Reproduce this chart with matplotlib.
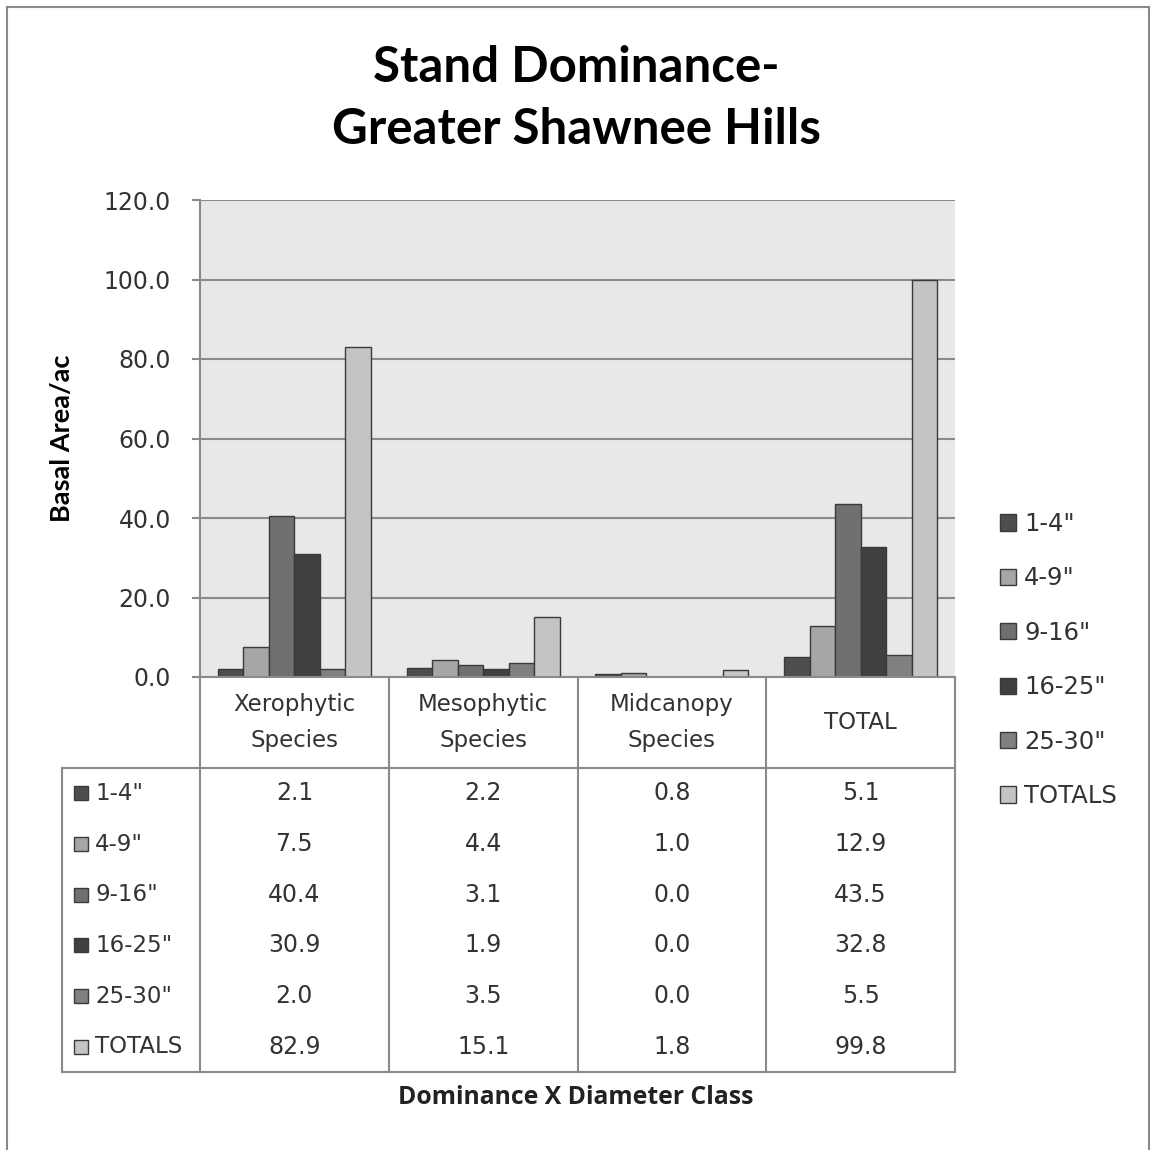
import numpy as np
import matplotlib
matplotlib.use("Agg")
import matplotlib.pyplot as plt
import matplotlib.patches as mpatches
import matplotlib.transforms as mtrans
from matplotlib.lines import Line2D

# ---- Data -------------------------------------------------------------------
CATEGORIES = ["Xerophytic\nSpecies", "Mesophytic\nSpecies", "Midcanopy\nSpecies", "TOTAL"]
SERIES     = ['1-4"', '4-9"', '9-16"', '16-25"', '25-30"', "TOTALS"]
VAL_1_4    = [2.1, 2.2, 0.8, 5.1]
VAL_4_9    = [7.5, 4.4, 1.0, 12.9]
VAL_9_16   = [40.4, 3.1, 0.0, 43.5]
VAL_16_25  = [30.9, 1.9, 0.0, 32.8]
VAL_25_30  = [2.0, 3.5, 0.0, 5.5]
VAL_TOTALS = [82.9, 15.1, 1.8, 99.8]
VALUES     = [VAL_1_4, VAL_4_9, VAL_9_16, VAL_16_25, VAL_25_30, VAL_TOTALS]
Y_TICKS    = [0, 20, 40, 60, 80, 100, 120]

COLORS  = ["#4d4d4d", "#a6a6a6", "#707070", "#404040", "#808080", "#c4c4c4"]
EDGE    = "#3a3a3a"
LINE_C  = "#8a8a8a"
TXT_C   = "#333333"
BG      = "#e8e8e8"

W_PX = 1150
fig = plt.figure(figsize=(11.5, 11.5), dpi=100)


def px(x, y):
    # pixel (top-left origin) -> figure fraction
    return x / W_PX, 1 - y / W_PX


# ---- Axes -------------------------------------------------------------------
x0, y_top, x1, y_bot = 200, 200, 955, 677
ax = fig.add_axes([x0 / W_PX, 1 - y_bot / W_PX, (x1 - x0) / W_PX, (y_bot - y_top) / W_PX])
ax.set_facecolor(BG)

n = len(CATEGORIES)
xpos = np.arange(n)
bw = 0.135
for j, (vals, col, lbl) in enumerate(zip(VALUES, COLORS, SERIES)):
    ax.bar(xpos + (j - 2.5) * bw, vals, width=bw, color=col, edgecolor=EDGE,
           linewidth=1.0, label=lbl, zorder=3)

ax.set_xlim(-0.5, n - 0.5)
ax.set_ylim(0, 120)
ax.set_yticks(Y_TICKS)
ax.set_yticklabels([f"{v:.1f}" for v in Y_TICKS], fontsize=17, color=TXT_C)
ax.set_xticks([])
ax.yaxis.grid(True, color=LINE_C, lw=1.5, zorder=1)
ax.tick_params(axis="y", length=6, width=1.5, color=LINE_C, pad=15)
for s in ["top", "right", "bottom"]:
    ax.spines[s].set_visible(False)
ax.spines["left"].set_color(LINE_C)
ax.spines["left"].set_linewidth(1.5)

# ---- Data table under the axes ----------------------------------------------
tr = mtrans.blended_transform_factory(ax.transData, ax.transAxes)
ax_h = y_bot - y_top
hdr_b = -91 / ax_h
row_h = 50.67 / ax_h
tbl_b = hdr_b - row_h * len(SERIES)
x_lab = -0.5 - 138 / 188.75

line_kw = dict(color=LINE_C, lw=1.5, transform=tr, clip_on=False, zorder=5)
ax.add_line(Line2D([-0.5, n - 0.5], [0, 0], **line_kw))
ax.add_line(Line2D([x_lab, n - 0.5], [hdr_b, hdr_b], **line_kw))
ax.add_line(Line2D([x_lab, n - 0.5], [tbl_b, tbl_b], **line_kw))
ax.add_line(Line2D([x_lab, x_lab], [hdr_b, tbl_b], **line_kw))
for b in np.arange(n + 1) - 0.5:
    ax.add_line(Line2D([b, b], [0, tbl_b], **line_kw))

for i, cat in enumerate(CATEGORIES):
    ax.text(i, hdr_b / 2, cat, transform=tr, ha="center", va="center",
            fontsize=16.5, color=TXT_C, linespacing=1.7)

for j, (vals, col, lbl) in enumerate(zip(VALUES, COLORS, SERIES)):
    yc = hdr_b - row_h * (j + 0.5)
    ax.plot([x_lab + 0.1], [yc], marker="s", ms=9.5, color=col, mec=EDGE,
            mew=1.0, transform=tr, clip_on=False)
    ax.text(x_lab + 0.175, yc, lbl, transform=tr, ha="left", va="center",
            fontsize=16.5, color=TXT_C)
    for i, v in enumerate(vals):
        ax.text(i, yc, f"{v:.1f}", transform=tr, ha="center", va="center",
                fontsize=17, color=TXT_C)

# ---- Legend -----------------------------------------------------------------
handles = [mpatches.Patch(facecolor=c, edgecolor=EDGE, lw=1.0, label=l)
           for c, l in zip(COLORS, SERIES)]
fig.legend(handles=handles, loc="center left", bbox_to_anchor=px(1000, 660),
           frameon=False, fontsize=17.5, handlelength=0.65, handleheight=0.65,
           handletextpad=0.35, labelspacing=1.25, borderpad=0, borderaxespad=0,
           labelcolor=TXT_C)

# ---- Titles and labels ------------------------------------------------------
fig.text(*px(576, 67), "Stand Dominance-", ha="center", va="center",
         fontsize=35.5, fontweight="bold", family="Lato")
fig.text(*px(576, 130), "Greater Shawnee Hills", ha="center", va="center",
         fontsize=35.5, fontweight="bold", family="Lato")
fig.text(*px(62, 438), "Basal Area/ac", rotation=90, ha="center", va="center",
         fontsize=19.5, fontweight="bold", family="Lato")
fig.text(*px(576, 1098), "Dominance X Diameter Class", ha="center", va="center",
         fontsize=17.8, fontweight="bold", family="Open Sans", color="#222222")

# outer chart border
fig.add_artist(mpatches.Rectangle(px(7, 1160), 1142 / W_PX, 1153 / W_PX,
                                  transform=fig.transFigure, fill=False,
                                  edgecolor="#8a8a8a", lw=1.5))

fig.savefig("out.png", dpi=100)
